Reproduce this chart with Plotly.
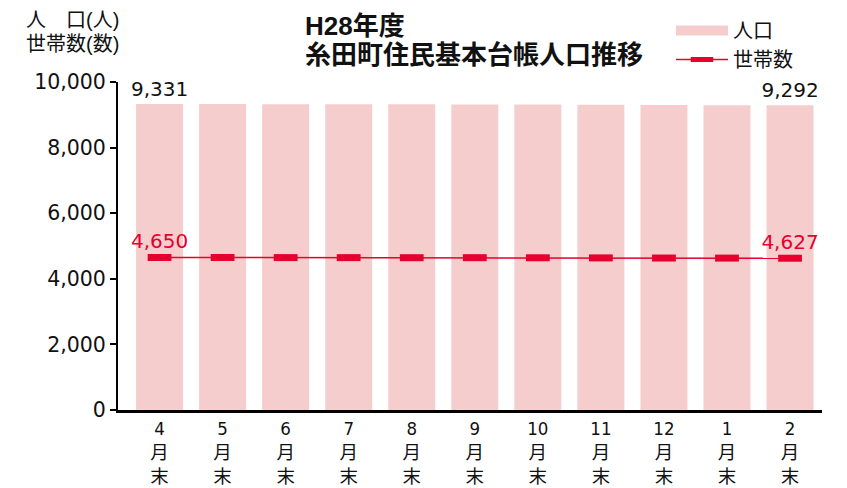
import plotly.graph_objects as go

months = ["4", "5", "6", "7", "8", "9", "10", "11", "12", "1", "2"]
population = [9331, 9326, 9322, 9323, 9318, 9315, 9316, 9305, 9298, 9292, 9292]
households = [4650, 4649, 4646, 4645, 4643, 4644, 4641, 4637, 4633, 4631, 4627]

categories = [m + "<br>月<br>末" for m in months]
pop_labels = [f"{v:,}" if i in (0, len(population) - 1) else "" for i, v in enumerate(population)]
hh_labels = [f"{v:,}" if i in (0, len(households) - 1) else "" for i, v in enumerate(households)]

NUMFONT = "DejaVu Sans, Noto Sans CJK JP, sans-serif"
FONT = "Liberation Sans, Arial, Noto Sans CJK JP, sans-serif"
NARROW = "Liberation Sans Narrow, DejaVu Sans Condensed, Noto Sans CJK JP, sans-serif"
PINK = "#F6CDCD"
RED = "#E5002D"

# plot area in pixels (for placing text annotations)
L, R, T, B = 118, 822, 82, 410


def px(x):
    return (x - L) / (R - L)


def py(y):
    return (B - y) / (B - T)


fig = go.Figure()
fig.add_trace(go.Bar(
    x=categories, y=population, name="人口",
    marker=dict(color=PINK, line=dict(width=0)),
    text=pop_labels, textposition="outside", cliponaxis=False,
    constraintext="none",
    textfont=dict(color="#111111", size=20, family=NUMFONT),
    showlegend=False, hoverinfo="x+y",
))
# legend entry for population (wide pink swatch)
fig.add_trace(go.Scatter(
    x=[None], y=[None], name="人口", mode="lines",
    line=dict(color=PINK, width=10), legendgroup="a",
))
fig.add_trace(go.Scatter(
    x=categories, y=households, name="世帯数",
    mode="lines+markers",
    line=dict(color=RED, width=1.5),
    marker=dict(symbol="line-ew", size=17, color=RED, line=dict(color=RED, width=7)),
    legendgroup="b",
))
# household value labels (first and last)
fig.add_trace(go.Scatter(
    x=categories, y=households, mode="markers+text",
    marker=dict(size=5, opacity=0),
    text=hh_labels, textposition="top center", cliponaxis=False,
    textfont=dict(color=RED, size=20, family=NUMFONT),
    showlegend=False, hoverinfo="skip",
))


def ann(x, y, text, size):
    return dict(xref="paper", yref="paper", x=px(x), y=py(y),
                xanchor="left", yanchor="middle", showarrow=False,
                text=text, font=dict(size=size, family=FONT, color="#111111"))


fig.update_layout(
    width=847, height=488,
    margin=dict(l=L, r=847 - R, t=T, b=488 - B, autoexpand=False),
    paper_bgcolor="white", plot_bgcolor="white",
    font=dict(family=FONT, size=19, color="#111111"),
    bargap=0.255,
    showlegend=True,
    legend=dict(
        xref="container", yref="container", x=671 / 847, y=1 - 11 / 488,
        xanchor="left", yanchor="top",
        itemwidth=52, tracegroupgap=0, traceorder="grouped",
        font=dict(size=20, family=FONT), bgcolor="rgba(0,0,0,0)",
    ),
    xaxis=dict(
        type="category", range=[-0.659, 10.507],
        showline=True, linecolor="black", linewidth=2.5,
        ticks="", showgrid=False, ticklabelstandoff=0,
        tickfont=dict(size=18.5, family=NARROW),
    ),
    yaxis=dict(
        range=[0, 10000], tickvals=[0, 2000, 4000, 6000, 8000, 10000],
        tickformat=",", showline=True, linecolor="black", linewidth=2,
        ticks="outside", ticklen=6, tickwidth=2, tickcolor="black",
        showgrid=False, zeroline=False, tickfont=dict(size=20.5, family=NUMFONT),
    ),
    annotations=[
        ann(24, 20, "人　口(人)", 20),
        ann(24, 44, "世帯数(数)", 20),
        ann(303, 26, "<b>H28年度</b>", 26),
        ann(303, 55, "<b>糸田町住民基本台帳人口推移</b>", 26),
    ],
)

fig.write_html("out.html", config={"displayModeBar": False},
               post_script="document.body.style.margin='0';")
